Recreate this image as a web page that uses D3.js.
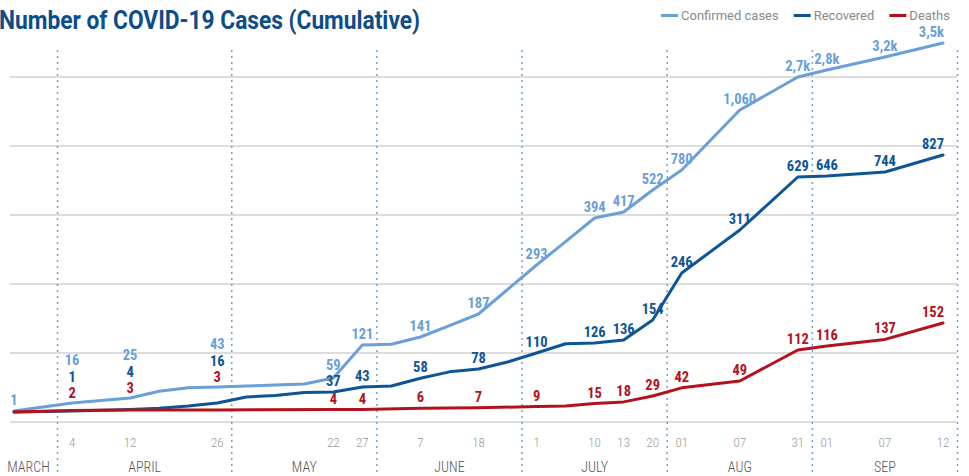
<!DOCTYPE html>
<html>
<head>
<meta charset="utf-8">
<script src="https://cdn.jsdelivr.net/npm/d3@7"></script>
<style>
body { margin: 0; background: #fff; }
svg { display: block; font-family: Roboto, "Noto Sans", sans-serif; }
.title { font-weight: 700; fill: #0e4c8a; font-size: 25px; }
.legend text { font-size: 13px; fill: #8a8a8a; }
.grid line { stroke: #d2d2d2; stroke-width: 1.5; }
.month-sep { stroke: #6fa3d8; stroke-width: 1.5; stroke-dasharray: 2,4; }
.tick-day { font-size: 13px; fill: #9a9a9a; font-weight: 300; text-anchor: middle; font-stretch: condensed; }
.month { font-size: 14px; fill: #555; font-weight: 300; text-anchor: middle; font-stretch: condensed; }
.line { fill: none; stroke-width: 3; stroke-linejoin: round; stroke-linecap: round; }
.value { font-size: 14.5px; font-weight: 700; text-anchor: middle; font-stretch: condensed; }
</style>
</head>
<body>
<svg id="chart" width="969" height="476"></svg>
<script>
"use strict";

// One entry per observation, month-day. Only some of them get a tick label.
var dates = ["03-26", "03-31", "04-04", "04-08", "04-12", "04-16", "04-21", "04-26",
	"05-02", "05-08", "05-15", "05-22", "05-27", "06-02", "06-07", "06-12", "06-18", "06-24",
	"07-01", "07-05", "07-10", "07-13", "07-20", "08-01", "08-04", "08-07", "08-20", "08-31",
	"09-01", "09-04", "09-07", "09-10", "09-12"];

var tickDates = ["04-04", "04-12", "04-26", "05-22", "05-27", "06-07", "06-18", "07-01",
	"07-10", "07-13", "07-20", "08-01", "08-07", "08-31", "09-01", "09-07", "09-12"];
var tickLabels = ["4", "12", "26", "22", "27", "7", "18", "1", "10", "13", "20", "01", "07", "31", "01", "07", "12"];

var monthNames = {"03": "MARCH", "04": "APRIL", "05": "MAY", "06": "JUNE", "07": "JULY", "08": "AUG", "09": "SEP"};

// null = no reading at that date
var confirmed = [1, null, 16, null, 25, 38, 42, 43, 44, null, 46, 59, 121, 123, 141, 150, 187, null,
	293, 305, 394, 417, 522, 780, null, 1060, null, 2700, 2800, null, 3200, null, 3500];
var recovered = [0, null, 1, null, 4, 6, 10, 16, 27, 30, 36, 37, 43, 44, 58, 72, 78, 95,
	110, 124, 126, 136, 154, 246, null, 311, null, 629, 646, null, 744, null, 827];
var deaths = [0, null, 2, null, 3, null, null, 3, null, null, null, 4, 4, null, 6, null, 7, null,
	9, 10, 15, 18, 29, 42, null, 49, null, 112, 116, null, 137, null, 152];

var series = [
	{name: "Confirmed cases", values: confirmed, colour: "#6a9fd8"},
	{name: "Recovered", values: recovered, colour: "#0d5596"},
	{name: "Deaths", values: deaths, colour: "#b3121d"}
];

var svg = d3.select("#chart");

var x = d3.scalePoint()
	.domain(dates)
	.range([14, 943]);
var step = x.step();

// The value axis of the original is not linear, so follow it piece by piece.
var y = d3.scaleLinear()
	.domain([0, 1, 4, 10, 16, 25, 37, 43, 49, 59, 78, 95, 110, 112, 116, 121, 126, 136, 141, 152, 154,
		187, 246, 293, 311, 394, 417, 522, 629, 646, 744, 780, 827, 1060, 2700, 2800, 3200, 3500])
	.range([412, 411, 409.5, 406, 403, 398, 392, 387, 381, 378, 369, 362, 353, 350, 346, 345, 343, 340, 337, 323, 320,
		314, 273, 265, 230, 218, 212, 190, 177, 176, 172, 170, 155, 110, 77, 70, 57, 43]);

var gridY = d3.scaleLinear().domain([0, 5]).range([422, 77]);

function formatValue(v) {
	if (v >= 2000) {
		return d3.format(".1f")(v / 1000).replace(".", ",") + "k";
	}
	return d3.format(",")(v);
}

function monthOf(d) { return d.slice(0, 2); }

// Grid lines
svg.append("g")
	.attr("class", "grid")
	.selectAll("line")
	.data(d3.range(6))
	.enter()
	.append("line")
	.attr("x1", 10)
	.attr("x2", 957)
	.attr("y1", function(d) { return gridY(d); })
	.attr("y2", function(d) { return gridY(d); });

// Month separators sit half a step after the last date of each month
var months = [];
dates.forEach(function(d) {
	var m = monthOf(d);
	if (!months.length || months[months.length - 1].key !== m) {
		months.push({key: m, first: d, last: d});
	} else {
		months[months.length - 1].last = d;
	}
});

svg.append("g")
	.selectAll("line")
	.data(months)
	.enter()
	.append("line")
	.attr("class", "month-sep")
	.attr("x1", function(d) { return x(d.last) + step / 2; })
	.attr("x2", function(d) { return x(d.last) + step / 2; })
	.attr("y1", 50)
	.attr("y2", 476);

svg.append("g")
	.selectAll("text")
	.data(tickDates)
	.enter()
	.append("text")
	.attr("class", "tick-day")
	.attr("x", function(d) { return x(d); })
	.attr("y", 447)
	.text(function(d, i) { return tickLabels[i]; });

svg.append("g")
	.selectAll("text")
	.data(months)
	.enter()
	.append("text")
	.attr("class", "month")
	.attr("x", function(d) { return (x(d.first) + x(d.last)) / 2; })
	.attr("y", 472)
	.text(function(d) { return monthNames[d.key]; });

// Lines
var line = d3.line()
	.x(function(d) { return x(d.date); })
	.y(function(d) { return y(d.value); });

series.forEach(function(s) {
	var points = dates.map(function(d, i) { return {date: d, value: s.values[i]}; })
		.filter(function(p) { return p.value !== null; });
	svg.append("path")
		.attr("class", "line")
		.attr("stroke", s.colour)
		.attr("d", line(points));
});

// Value labels: on the first date and on every ticked date.
// Each label sits just above its own line; when the lines are too close
// together the three labels are stacked above the top line instead.
var labelDates = [dates[0]].concat(tickDates);
var lastDate = dates[dates.length - 1];
var rowGap = 16.5;
var labels = [];
labelDates.forEach(function(d) {
	var i = dates.indexOf(d);
	var ys = series.map(function(s) { return s.values[i] ? y(s.values[i]) : null; });
	var crowded = ys[2] !== null && ys[1] !== null && ys[2] - ys[1] < 10;
	var base = [];
	if (crowded) {
		var top = d3.min(ys);
		base = [top - 5 - 2 * rowGap, top - 5 - rowGap, top - 5];
	} else {
		base = ys.map(function(v) { return v === null ? null : v - 6; });
		if (base[2] !== null && base[1] !== null) base[1] = Math.min(base[1], base[2] - rowGap);
		if (base[1] !== null && base[0] !== null) base[0] = Math.min(base[0], base[1] - rowGap);
	}
	series.forEach(function(s, k) {
		if (s.values[i]) {
			labels.push({date: d, series: k, value: s.values[i], colour: s.colour, y: base[k], dx: 0});
		}
	});
});

var labelText = svg.append("g")
	.selectAll("text")
	.data(labels)
	.enter()
	.append("text")
	.attr("class", "value")
	.attr("x", function(d) { return x(d.date); })
	.attr("y", function(d) { return d.y; })
	.attr("fill", function(d) { return d.colour; })
	.text(function(d) { return formatValue(d.value); });

// Labels at the end of the lines finish at the last point;
// any other label is pushed left when it would run into the next one of its line
labelText.each(function(d) {
	d.w = this.getComputedTextLength();
	if (d.date === lastDate) d.dx = 1 - d.w / 2;
});
series.forEach(function(s, k) {
	var own = labels.filter(function(d) { return d.series === k; });
	for (var j = own.length - 2; j >= 0; j--) {
		var a = own[j], b = own[j + 1];
		var gap = (x(b.date) + b.dx - b.w / 2) - (x(a.date) + a.dx + a.w / 2);
		if (gap < 4) a.dx -= 4 - gap;
	}
});
labelText.attr("x", function(d) { return x(d.date) + d.dx; });

// Title
svg.append("text")
	.attr("class", "title")
	.attr("x", -1)
	.attr("y", 29)
	.attr("textLength", 421)
	.attr("lengthAdjust", "spacingAndGlyphs")
	.text("Number of COVID-19 Cases (Cumulative)");

// Legend
var legend = svg.append("g").attr("class", "legend");
var lx = 661;
series.forEach(function(s) {
	var g = legend.append("g").attr("transform", "translate(" + lx + ",15.5)");
	g.append("line")
		.attr("x1", 0).attr("x2", 17)
		.attr("stroke", s.colour)
		.attr("stroke-width", 3);
	var t = g.append("text")
		.attr("x", 20)
		.attr("y", 4.5)
		.text(s.name);
	lx += 20 + t.node().getComputedTextLength() + 15;
});
</script>
</body>
</html>
